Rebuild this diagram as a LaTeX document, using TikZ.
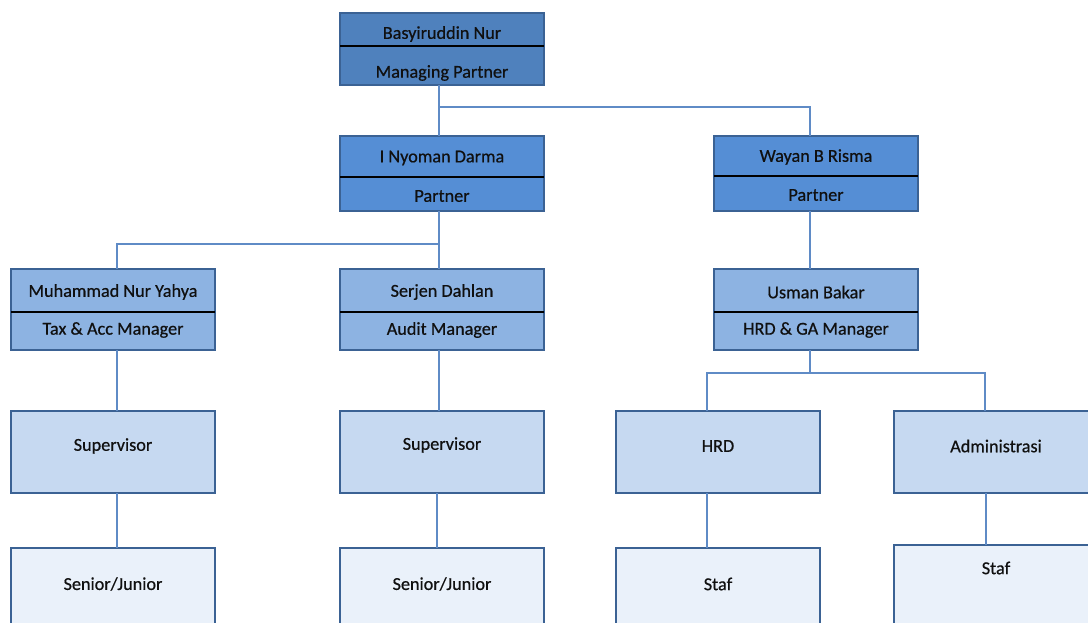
\documentclass[tikz,border=0pt]{standalone}
\usepackage{fontspec}
\setmainfont{Carlito}
\newfontfamily\lblfont{Carlito}[FakeBold=0.6]
\definecolor{bordc}{HTML}{3B6294}
\definecolor{linec}{HTML}{5F8BC6}
\definecolor{fa}{HTML}{4F81BD}
\definecolor{fb}{HTML}{558ED5}
\definecolor{fc}{HTML}{8DB3E2}
\definecolor{fd}{HTML}{C6D9F1}
\definecolor{fe}{HTML}{EAF1FA}
\definecolor{txt}{HTML}{101010}
\begin{document}
\begin{tikzpicture}[x=1pt,y=-1pt,
  box/.style={draw=bordc,line width=2.4pt,minimum width=204pt,inner sep=0pt,outer sep=0pt},
  lbl/.style={font=\lblfont\fontsize{18.2}{20}\selectfont,text=txt,inner sep=0pt},
  divline/.style={black,line width=2.6pt},
  conn/.style={linec,line width=1.3pt}]
\useasboundingbox (0,0) rectangle (1088,623);
\clip (0,0) rectangle (1088,623);
% level 1
\node[box,fill=fa,minimum height=72pt] (bas) at (442,49) {};
\draw[divline] (bas.west |- 0,46) -- (bas.east |- 0,46);
\node[lbl] (basn) at (442,34) {Basyiruddin Nur};
\node[lbl] (basr) at (442,73) {Managing Partner};
% level 2
\node[box,fill=fb,minimum height=75pt] (nyo) at (442,173.5) {};
\draw[divline] (nyo.west |- 0,177) -- (nyo.east |- 0,177);
\node[lbl] (nyon) at (442,158) {I Nyoman Darma};
\node[lbl] (nyor) at (442,196) {Partner};
\node[box,fill=fb,minimum height=75pt] (way) at (816,173.5) {};
\draw[divline] (way.west |- 0,176) -- (way.east |- 0,176);
\node[lbl] (wayn) at (816,157) {Wayan B Risma};
\node[lbl] (wayr) at (816,195) {Partner};
% level 3
\node[box,fill=fc,minimum height=81pt] (muh) at (113,309.5) {};
\draw[divline] (muh.west |- 0,312) -- (muh.east |- 0,312);
\node[lbl] (muhn) at (113,292) {Muhammad Nur Yahya};
\node[lbl] (muhr) at (113,330) {Tax \& Acc Manager};
\node[box,fill=fc,minimum height=81pt] (ser) at (442,309.5) {};
\draw[divline] (ser.west |- 0,312) -- (ser.east |- 0,312);
\node[lbl] (sern) at (442,292) {Serjen Dahlan};
\node[lbl] (serr) at (442,330) {Audit Manager};
\node[box,fill=fc,minimum height=81pt] (usm) at (816,309.5) {};
\draw[divline] (usm.west |- 0,312) -- (usm.east |- 0,312);
\node[lbl] (usmn) at (816,292) {Usman Bakar};
\node[lbl] (usmr) at (816,330) {HRD \& GA Manager};
% level 4
\node[box,fill=fd,minimum height=82pt] (sup1) at (113,452) {};
\node[lbl] (sup1t) at (113,446) {Supervisor};
\node[box,fill=fd,minimum height=82pt] (sup2) at (442,452) {};
\node[lbl] (sup2t) at (442,445) {Supervisor};
\node[box,fill=fd,minimum height=82pt] (hrd) at (718,452) {};
\node[lbl] (hrdt) at (718,446) {HRD};
\node[box,fill=fd,minimum height=82pt] (adm) at (996,452) {};
\node[lbl] (admt) at (996,446) {Administrasi};
% level 5
\node[box,fill=fe,minimum height=100pt] (sj1) at (113,598) {};
\node[lbl] (sj1t) at (113,584) {Senior/Junior};
\node[box,fill=fe,minimum height=100pt] (sj2) at (442,598) {};
\node[lbl] (sj2t) at (442,584) {Senior/Junior};
\node[box,fill=fe,minimum height=100pt] (st1) at (718,598) {};
\node[lbl] (st1t) at (718,584) {Staf};
\node[box,fill=fe,minimum height=104pt] (st2) at (996,597) {};
\node[lbl] (st2t) at (996,568) {Staf};
% junction points
\coordinate (j1) at (439,107);
\coordinate (j2) at (439,244);
\coordinate (j3) at (810,373);
% connectors
\draw[conn] ([xshift=-3pt]bas.south) -- ([xshift=-3pt]nyo.north);
\draw[conn] (j1) -| ([xshift=-6pt]way.north);
\draw[conn] ([xshift=-3pt]nyo.south) -- ([xshift=-3pt]ser.north);
\draw[conn] (j2) -| ([xshift=4pt]muh.north);
\draw[conn] ([xshift=-6pt]way.south) -- ([xshift=-6pt]usm.north);
\draw[conn] ([xshift=-6pt]usm.south) -- (j3);
\draw[conn] (j3) -| ([xshift=-11pt]hrd.north);
\draw[conn] (j3) -| ([xshift=-11pt]adm.north);
\draw[conn] ([xshift=4pt]muh.south) -- ([xshift=4pt]sup1.north);
\draw[conn] ([xshift=-3pt]ser.south) -- ([xshift=-3pt]sup2.north);
\draw[conn] ([xshift=4pt]sup1.south) -- ([xshift=4pt]sj1.north);
\draw[conn] ([xshift=-5pt]sup2.south) -- ([xshift=-5pt]sj2.north);
\draw[conn] ([xshift=-11pt]hrd.south) -- ([xshift=-11pt]st1.north);
\draw[conn] ([xshift=-10pt]adm.south) -- ([xshift=-10pt]st2.north);
\end{tikzpicture}
\end{document}
